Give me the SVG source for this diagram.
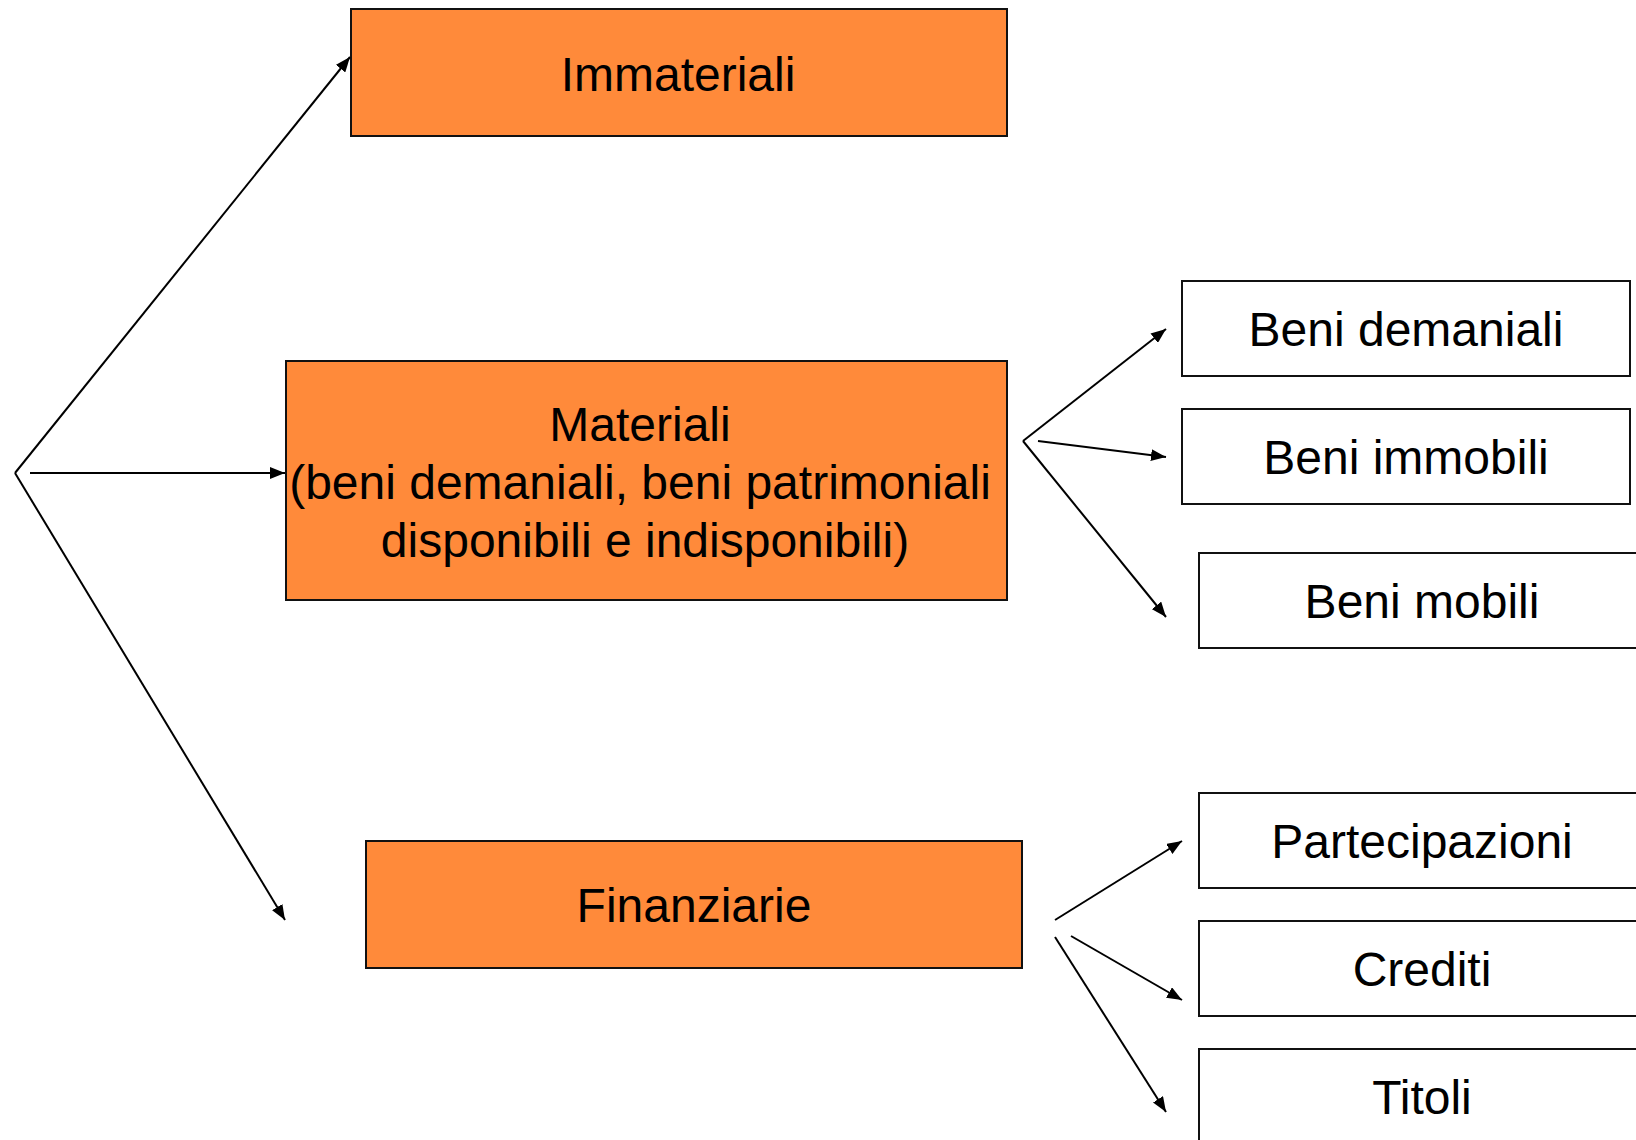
<svg xmlns="http://www.w3.org/2000/svg" width="1636" height="1140" viewBox="0 0 1636 1140">
<defs>
<style>
.o{fill:#FF8A3A;stroke:#111;stroke-width:2}
.w{fill:#fff;stroke:#111;stroke-width:2}
.t{font-family:"Liberation Sans",Arial,sans-serif;font-size:48px;fill:#000;text-anchor:middle}
.c line{stroke:#000;stroke-width:2;fill:none}
.a{marker-end:url(#ah)}
</style>
<marker id="ah" markerUnits="userSpaceOnUse" markerWidth="15" markerHeight="12" refX="15" refY="6" orient="auto" viewBox="0 0 15 12">
<path d="M0,0 L15,6 L0,12 z" fill="#000"/>
</marker>
</defs>
<rect width="1636" height="1140" fill="#fff"/>
<g id="immateriali"><rect class="o" x="351" y="9" width="656" height="127"/><text class="t" x="678" y="91">Immateriali</text></g>
<g id="materiali"><rect class="o" x="286" y="361" width="721" height="239"/>
<text class="t" x="640" y="441">Materiali</text>
<text class="t" x="640" y="499">(beni demaniali, beni patrimoniali</text>
<text class="t" x="645" y="557">disponibili e indisponibili)</text></g>
<g id="finanziarie"><rect class="o" x="366" y="841" width="656" height="127"/><text class="t" x="694" y="922">Finanziarie</text></g>
<g id="beni-demaniali"><rect class="w" x="1182" y="281" width="448" height="95"/><text class="t" x="1406" y="346">Beni demaniali</text></g>
<g id="beni-immobili"><rect class="w" x="1182" y="409" width="448" height="95"/><text class="t" x="1406" y="474">Beni immobili</text></g>
<g id="beni-mobili"><rect class="w" x="1199" y="553" width="450" height="95"/><text class="t" x="1422" y="618">Beni mobili</text></g>
<g id="partecipazioni"><rect class="w" x="1199" y="793" width="450" height="95"/><text class="t" x="1422" y="858">Partecipazioni</text></g>
<g id="crediti"><rect class="w" x="1199" y="921" width="450" height="95"/><text class="t" x="1422" y="986">Crediti</text></g>
<g id="titoli"><rect class="w" x="1199" y="1049" width="450" height="100"/><text class="t" x="1422" y="1114">Titoli</text></g>
<g id="connectors" class="c">
<line x1="15" y1="473" x2="350" y2="57" class="a"/>
<line x1="15" y1="473" x2="285" y2="920" class="a"/>
<line x1="30" y1="473" x2="285" y2="473" class="a"/>
<line x1="1023" y1="441" x2="1166" y2="329" class="a"/>
<line x1="1038" y1="441" x2="1166" y2="457" class="a"/>
<line x1="1023" y1="441" x2="1166" y2="617" class="a"/>
<line x1="1055" y1="920" x2="1182" y2="841" class="a"/>
<line x1="1071" y1="936" x2="1182" y2="1000" class="a"/>
<line x1="1055" y1="937" x2="1166" y2="1112" class="a"/>
</g>
</svg>
